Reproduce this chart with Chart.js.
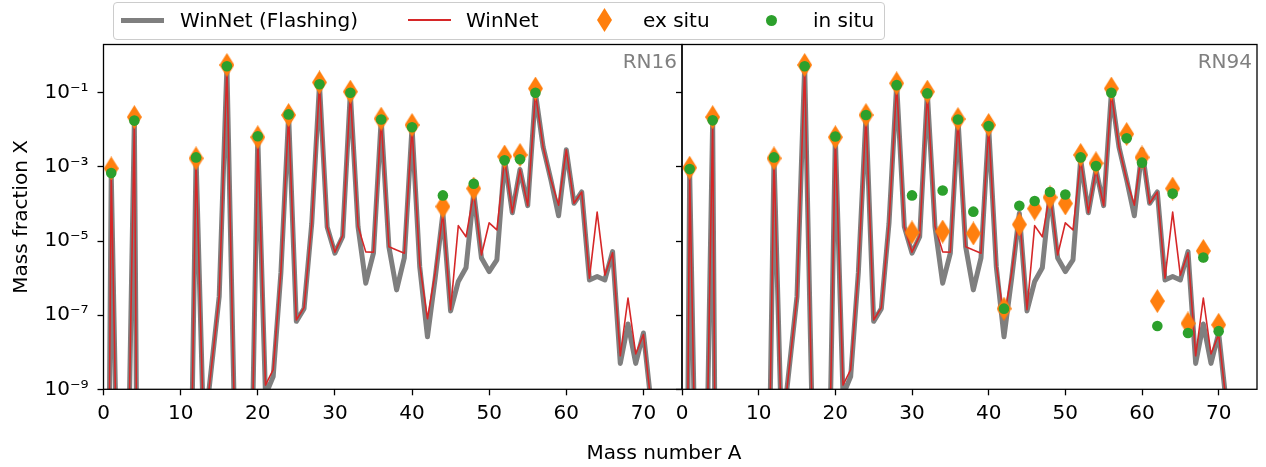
<!DOCTYPE html>
<html>
<head>
<meta charset="utf-8">
<title>WinNet mass fractions</title>
<script src="https://cdn.jsdelivr.net/npm/chart.js@4.4.1/dist/chart.umd.min.js"></script>
<style>
  html, body { margin: 0; padding: 0; background: #fff; }
  #wrap { position: relative; width: 1266px; height: 467px; font-family: 'DejaVu Sans', sans-serif; color: #000; }
  #wrap canvas { position: absolute; left: 0; top: 0; }
  #legend { position: absolute; left: 113px; top: 2px; width: 772px; height: 38px; box-sizing: border-box;
            border: 1px solid #cccccc; border-radius: 4px; background: rgba(255,255,255,0.8); }
  .sym { position: absolute; }
  .txt { position: absolute; top: 8px; font-size: 20px; line-height: 24px; white-space: nowrap; }
  #xtitle { position: absolute; left: 514px; width: 300px; top: 440px; text-align: center; font-size: 20px; line-height: 24px; }
</style>
</head>
<body>
<div id="wrap">
  <canvas id="panelLeft" width="1266" height="467"></canvas>
  <canvas id="panelRight" width="1266" height="467"></canvas>
  <div id="legend"></div>
  <div class="sym" style="left:121px;top:18px;width:43px;height:5px;background:#7f7f7f"></div>
  <div class="txt" style="left:180px">WinNet (Flashing)</div>
  <div class="sym" style="left:408px;top:19px;width:43px;height:2px;background:#d62728"></div>
  <div class="txt" style="left:466px">WinNet</div>
  <svg class="sym" style="left:597px;top:8px" width="15" height="24"><polygon points="7.5,0 15,12 7.5,24 0,12" fill="#ff7f0e"/></svg>
  <div class="txt" style="left:643px">ex situ</div>
  <div class="sym" style="left:766px;top:15px;width:11px;height:11px;border-radius:50%;background:#2ca02c"></div>
  <div class="txt" style="left:813px">in situ</div>
  <div id="xtitle">Mass number A</div>
</div>
<script>
// mass numbers of the network lines
var massNumber = [0, 1, 2, 3, 4, 5, 6, 7, 8, 9, 10, 11, 12, 13, 14, 15, 16, 17, 18, 19,
  20, 21, 22, 23, 24, 25, 26, 27, 28, 29, 30, 31, 32, 33, 34, 35, 36, 37, 38, 39,
  40, 41, 42, 43, 44, 45, 46, 47, 48, 49, 50, 51, 52, 53, 54, 55, 56, 57, 58, 59,
  60, 61, 62, 63, 64, 65, 66, 67, 68, 69, 70, 71];

// WinNet with flashing (thick grey)
var winnetFlashing = [1e-30, 7.2e-4, 1e-14, 3e-14, 0.018, 1e-30, 1e-20, 1e-20, 1e-30, 1e-20,
  1e-20, 1e-16, 1.8e-3, 5e-11, 4e-9, 3.2e-7, 0.52, 1e-10, 1e-13, 3e-14,
  6.6e-3, 7e-10, 2.2e-9, 1.4e-6, 0.025, 6.8e-8, 1.5e-7, 3e-5, 0.17, 2.4e-5,
  4.7e-6, 1.3e-5, 0.1, 2.4e-5, 7.3e-7, 4.7e-6, 0.019, 7e-6, 4.8e-7, 3.5e-6,
  0.012, 2e-6, 2.6e-8, 1e-6, 5.6e-5, 1.3e-7, 8.1e-7, 1.9e-6, 2e-4, 3.5e-6,
  1.5e-6, 3.1e-6, 1.6e-3, 5.8e-5, 8.5e-4, 9e-5, 0.098, 3.4e-3, 4.5e-4, 4.8e-5,
  2.9e-3, 1.04e-4, 2.1e-4, 8.9e-7, 1.1e-6, 8.9e-7, 5.2e-6, 5e-9, 5.8e-8, 5e-9,
  3.3e-8, 4e-10];

// WinNet (thin red)
var winnet = [1e-30, 7.2e-4, 1e-14, 3e-14, 0.018, 1e-30, 1e-20, 1e-20, 1e-30, 1e-20,
  1e-20, 1e-16, 1.8e-3, 5e-11, 4e-9, 3.2e-7, 0.52, 1e-10, 1e-13, 3e-14,
  6.6e-3, 1.3e-9, 3.4e-9, 1.5e-6, 0.025, 7.4e-8, 1.6e-7, 3e-5, 0.17, 2.4e-5,
  5e-6, 1.4e-5, 0.1, 2.5e-5, 5.1e-6, 5e-6, 0.019, 7e-6, 5.7e-6, 4.7e-6,
  0.012, 2.3e-6, 8e-8, 1.4e-6, 5.6e-5, 1.4e-7, 2.6e-5, 1.3e-5, 2e-4, 4.2e-6,
  3.1e-5, 2e-5, 1.6e-3, 5.8e-5, 8.5e-4, 9e-5, 0.098, 3.4e-3, 4.5e-4, 9.3e-5,
  2.9e-3, 1.04e-4, 2.1e-4, 1e-6, 6e-5, 1.2e-6, 4.8e-6, 8e-9, 2.9e-7, 9e-9,
  3e-8, 4e-10];

// RN16 observations
var rn16Mass = [1, 4, 12, 16, 20, 24, 28, 32, 36, 40, 44, 48, 52, 54, 56];
var rn16ExSitu = [9.1e-4, 0.022, 1.7e-3, 0.56, 6.3e-3, 0.025, 0.19, 0.107, 0.02, 0.0135, 8.5e-5, 2.6e-4, 1.9e-3, 2.1e-3, 0.13];
var rn16InSitu = [6.8e-4, 0.0177, 1.8e-3, 0.52, 6.7e-3, 0.026, 0.17, 0.1, 0.019, 0.0117, 1.7e-4, 3.5e-4, 1.5e-3, 1.6e-3, 0.1];

// RN94 observations
var rn94Mass = [1, 4, 12, 16, 20, 24, 28, 30, 32, 34, 36, 38, 40, 42, 44, 46, 48, 50,
  52, 54, 56, 58, 60, 62, 64, 66, 68, 70];
var rn94ExSitu = [9.5e-4, 0.022, 1.7e-3, 0.56, 6.3e-3, 0.025, 0.18, 1.7e-5, 0.107, 1.8e-5, 0.0195, 1.6e-5, 0.0135, 1.5e-7, 2.8e-5, 7.5e-5, 1.5e-4, 1.03e-4,
  2.1e-3, 1.25e-3, 0.13, 7.7e-3, 1.8e-3, 2.4e-7, 2.6e-4, 6e-8, 5.4e-6, 5.5e-8];
var rn94InSitu = [8.7e-4, 0.018, 1.8e-3, 0.52, 6.6e-3, 0.025, 0.16, 1.7e-4, 0.096, 2.3e-4, 0.019, 6.2e-5, 0.0126, 1.5e-7, 8.9e-5, 1.2e-4, 2.1e-4, 1.8e-4,
  1.8e-3, 1.05e-3, 0.1, 5.9e-3, 1.3e-3, 5.1e-8, 1.9e-4, 3.3e-8, 3.6e-6, 3.7e-8];

var xTicks = [0, 10, 20, 30, 40, 50, 60, 70];
var yTicks = [1e-9, 1e-7, 1e-5, 1e-3, 1e-1];
var yTickLabels = ['10⁻⁹', '10⁻⁷', '10⁻⁵', '10⁻³', '10⁻¹'];

Chart.defaults.font.family = "'DejaVu Sans', sans-serif";
Chart.defaults.font.size = 20;
Chart.defaults.color = '#000';

function pairs(xs, ys) {
  return xs.map(function (x, i) { return {x: x, y: ys[i]}; });
}

// thin diamond like matplotlib's 'd' marker
function thinDiamond(color) {
  var c = document.createElement('canvas');
  c.width = 15; c.height = 24;
  var g = c.getContext('2d');
  g.fillStyle = color;
  g.beginPath();
  g.moveTo(7.5, 0); g.lineTo(15, 12); g.lineTo(7.5, 24); g.lineTo(0, 12);
  g.closePath();
  g.fill();
  return c;
}
var diamondImg = thinDiamond('#ff7f0e');

// box around the axes + the run name in the corner
var framePlugin = {
  id: 'frame',
  afterDraw: function (chart, args, opts) {
    var ctx = chart.ctx, a = chart.chartArea;
    ctx.save();
    ctx.strokeStyle = '#000';
    ctx.lineWidth = 1.3;
    ctx.strokeRect(a.left, a.top, a.right - a.left, a.bottom - a.top);
    ctx.fillStyle = '#808080';
    ctx.font = "20px 'DejaVu Sans', sans-serif";
    ctx.textAlign = 'right';
    ctx.textBaseline = 'alphabetic';
    ctx.fillText(opts.label, a.right - 5, a.top + 23.5);
    ctx.restore();
  }
};

function makePanel(id, name, markA, exSitu, inSitu, isLeft) {
  var ctx = document.getElementById(id);
  return new Chart(ctx, {
    type: 'line',
    data: {
      datasets: [
        { label: 'in situ', data: pairs(markA, inSitu), showLine: false, pointStyle: 'circle',
          pointRadius: 5.3, pointBackgroundColor: '#2ca02c', pointBorderWidth: 0, clip: 0, order: 0 },
        { label: 'ex situ', data: pairs(markA, exSitu), showLine: false, pointStyle: diamondImg,
          pointRadius: 8, clip: 0, order: 1 },
        { label: 'WinNet', data: pairs(massNumber, winnet), borderColor: '#d62728', borderWidth: 1.6,
          pointRadius: 0, borderJoinStyle: 'round', tension: 0, clip: 0, order: 2 },
        { label: 'WinNet (Flashing)', data: pairs(massNumber, winnetFlashing), borderColor: '#7f7f7f', borderWidth: 5,
          pointRadius: 0, borderJoinStyle: 'round', tension: 0, clip: 0, order: 3 }
      ]
    },
    options: {
      responsive: false,
      animation: false,
      events: [],
      layout: { padding: { left: 0, top: 44.5, bottom: 0, right: isLeft ? 584 : 5.5 } },
      plugins: { legend: { display: false }, tooltip: { enabled: false }, frame: { label: name } },
      scales: {
        x: {
          type: 'linear', min: 0, max: 75, bounds: 'data',
          afterBuildTicks: function (s) { s.ticks = xTicks.map(function (v) { return {value: v}; }); },
          afterFit: function (s) { s.height = 77.7; },
          ticks: { color: '#000', padding: 6, maxRotation: 0, autoSkip: false },
          grid: { drawOnChartArea: false, drawTicks: true, tickLength: 6, tickWidth: 1.3, tickColor: '#000' },
          border: { display: false }
        },
        y: {
          type: 'logarithmic', min: 1e-9, max: 2, bounds: 'data',
          afterBuildTicks: function (s) { s.ticks = yTicks.map(function (v) { return {value: v, major: true}; }); },
          afterFit: function (s) { s.width = isLeft ? 103.5 : 682; },
          ticks: { display: isLeft, color: '#000', padding: 9, autoSkip: false,
                   callback: function (v, i) { return yTickLabels[i]; } },
          grid: { drawOnChartArea: false, drawTicks: true, tickLength: 6, tickWidth: 1.3, tickColor: '#000' },
          border: { display: false },
          title: { display: isLeft, text: 'Mass fraction X', color: '#000', padding: { top: 10, bottom: 0 } }
        }
      }
    },
    plugins: [framePlugin]
  });
}

makePanel('panelLeft', 'RN16', rn16Mass, rn16ExSitu, rn16InSitu, true);
makePanel('panelRight', 'RN94', rn94Mass, rn94ExSitu, rn94InSitu, false);
</script>
</body>
</html>
